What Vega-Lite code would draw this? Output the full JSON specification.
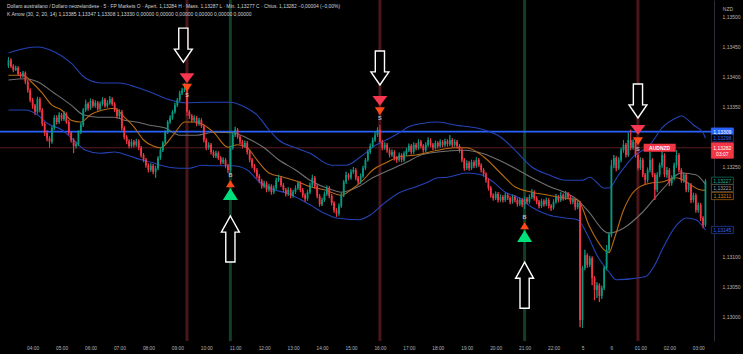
{
"$schema":"https://vega.github.io/schema/vega-lite/v6.json",
"width":714,"height":341,
"autosize":{"type":"none"},
"padding":{"left":0,"top":0,"right":29,"bottom":13},
"background":"#000000",
"config":{"view":{"stroke":null},"legend":{"disable":true},"font":"Liberation Sans","axis":{"grid":false,"ticks":false,"domain":false,"labelColor":"#b2b5be","labelFont":"Liberation Sans","titleColor":"#b2b5be","titleFont":"Liberation Sans","labelOverlap":false,"labelFlush":false,"labelBound":false},"axisX":{"labelOverlap":false,"labelFontSize":4.8,"tickCount":30},"axisY":{"labelOverlap":false,"labelFontSize":5,"tickCount":30}},
"title":{"text":"Dollaro australiano / Dollaro neozelandese · 5 · FP Markets   O · Apert. 1,13284   H · Mass. 1,13287   L · Min. 1,13277   C · Chius. 1,13282  −0,00004 (−0,00%)","subtitle":"K Arrow (30, 2, 20, 14)   1,13385  1,13347  1,13308  1,13330  0,00000  0,00000  0,00000  0,00000  0,00000  0,00000","anchor":"start","frame":"group","orient":"top","offset":-18,"dx":7,"font":"Liberation Sans","fontSize":4.9,"fontWeight":"normal","color":"#d1d4dc","subtitleFont":"Liberation Sans","subtitleFontSize":5,"subtitleColor":"#d1d4dc","subtitlePadding":3},
"datasets":{
"candles":[
{"i":-10,"o":1.13418,"h":1.13433,"l":1.13415,"c":1.13428},
{"i":-9,"o":1.13428,"h":1.13431,"l":1.13415,"c":1.13418},
{"i":-8,"o":1.13418,"h":1.13421,"l":1.13408,"c":1.13412},
{"i":-7,"o":1.13412,"h":1.13419,"l":1.1341,"c":1.13415},
{"i":-6,"o":1.13415,"h":1.13418,"l":1.13402,"c":1.13405},
{"i":-5,"o":1.13405,"h":1.13408,"l":1.13398,"c":1.13402},
{"i":-4,"o":1.13402,"h":1.1341,"l":1.13399,"c":1.13407},
{"i":-3,"o":1.13407,"h":1.13409,"l":1.13388,"c":1.13392},
{"i":-2,"o":1.13392,"h":1.13395,"l":1.13374,"c":1.13378},
{"i":-1,"o":1.13378,"h":1.13381,"l":1.13358,"c":1.13362},
{"i":0,"o":1.13362,"h":1.13365,"l":1.13347,"c":1.13352},
{"i":1,"o":1.13352,"h":1.13355,"l":1.13337,"c":1.13342},
{"i":2,"o":1.13342,"h":1.13367,"l":1.13339,"c":1.13363},
{"i":3,"o":1.13363,"h":1.13366,"l":1.13341,"c":1.13345},
{"i":4,"o":1.13345,"h":1.13348,"l":1.13318,"c":1.13322},
{"i":5,"o":1.13322,"h":1.13325,"l":1.13302,"c":1.13307},
{"i":6,"o":1.13307,"h":1.13311,"l":1.13293,"c":1.13298},
{"i":7,"o":1.13298,"h":1.13301,"l":1.13282,"c":1.13292},
{"i":8,"o":1.13292,"h":1.13318,"l":1.13289,"c":1.13315},
{"i":9,"o":1.13315,"h":1.13336,"l":1.13312,"c":1.13332},
{"i":10,"o":1.13332,"h":1.13336,"l":1.13321,"c":1.13325},
{"i":11,"o":1.13325,"h":1.13341,"l":1.13322,"c":1.13337},
{"i":12,"o":1.13337,"h":1.1334,"l":1.13327,"c":1.1333},
{"i":13,"o":1.1333,"h":1.13343,"l":1.13327,"c":1.13338},
{"i":14,"o":1.13338,"h":1.13341,"l":1.13322,"c":1.13325},
{"i":15,"o":1.13325,"h":1.13328,"l":1.13303,"c":1.13307},
{"i":16,"o":1.13307,"h":1.1331,"l":1.13291,"c":1.13295},
{"i":17,"o":1.13295,"h":1.13298,"l":1.13273,"c":1.13285},
{"i":18,"o":1.13285,"h":1.13292,"l":1.13281,"c":1.13288},
{"i":19,"o":1.13288,"h":1.13311,"l":1.13285,"c":1.13308},
{"i":20,"o":1.13308,"h":1.13324,"l":1.13305,"c":1.1332},
{"i":21,"o":1.1332,"h":1.13348,"l":1.13317,"c":1.13345},
{"i":22,"o":1.13345,"h":1.13362,"l":1.13342,"c":1.13355},
{"i":23,"o":1.13355,"h":1.13358,"l":1.13344,"c":1.13348},
{"i":24,"o":1.13348,"h":1.13364,"l":1.13345,"c":1.1336},
{"i":25,"o":1.1336,"h":1.13363,"l":1.13349,"c":1.13352},
{"i":26,"o":1.13352,"h":1.13361,"l":1.13349,"c":1.13357},
{"i":27,"o":1.13357,"h":1.1336,"l":1.13343,"c":1.13347},
{"i":28,"o":1.13347,"h":1.13359,"l":1.13344,"c":1.13355},
{"i":29,"o":1.13355,"h":1.13366,"l":1.13352,"c":1.13362},
{"i":30,"o":1.13362,"h":1.13365,"l":1.13349,"c":1.13352},
{"i":31,"o":1.13352,"h":1.13361,"l":1.13349,"c":1.13357},
{"i":32,"o":1.13357,"h":1.13368,"l":1.13354,"c":1.13363},
{"i":33,"o":1.13363,"h":1.13366,"l":1.13352,"c":1.13355},
{"i":34,"o":1.13355,"h":1.13358,"l":1.13342,"c":1.13345},
{"i":35,"o":1.13345,"h":1.13348,"l":1.13331,"c":1.13335},
{"i":36,"o":1.13335,"h":1.13346,"l":1.13332,"c":1.13342},
{"i":37,"o":1.13342,"h":1.13345,"l":1.13311,"c":1.13315},
{"i":38,"o":1.13315,"h":1.13318,"l":1.13296,"c":1.133},
{"i":39,"o":1.133,"h":1.13303,"l":1.13288,"c":1.13293},
{"i":40,"o":1.13293,"h":1.13296,"l":1.13281,"c":1.13285},
{"i":41,"o":1.13285,"h":1.13296,"l":1.13282,"c":1.13292},
{"i":42,"o":1.13292,"h":1.13295,"l":1.13283,"c":1.13287},
{"i":43,"o":1.13287,"h":1.13297,"l":1.13284,"c":1.13293},
{"i":44,"o":1.13293,"h":1.13296,"l":1.13278,"c":1.13282},
{"i":45,"o":1.13282,"h":1.13285,"l":1.13266,"c":1.1327},
{"i":46,"o":1.1327,"h":1.13273,"l":1.13258,"c":1.13262},
{"i":47,"o":1.13262,"h":1.13265,"l":1.13249,"c":1.13253},
{"i":48,"o":1.13253,"h":1.13256,"l":1.13241,"c":1.13245},
{"i":49,"o":1.13245,"h":1.13256,"l":1.13242,"c":1.13252},
{"i":50,"o":1.13252,"h":1.13255,"l":1.13238,"c":1.13242},
{"i":51,"o":1.13242,"h":1.13252,"l":1.13232,"c":1.13248},
{"i":52,"o":1.13248,"h":1.13268,"l":1.13245,"c":1.13265},
{"i":53,"o":1.13265,"h":1.13282,"l":1.13262,"c":1.13278},
{"i":54,"o":1.13278,"h":1.13293,"l":1.13275,"c":1.1329},
{"i":55,"o":1.1329,"h":1.13311,"l":1.13287,"c":1.13308},
{"i":56,"o":1.13308,"h":1.13328,"l":1.13305,"c":1.13325},
{"i":57,"o":1.13325,"h":1.13336,"l":1.13322,"c":1.13332},
{"i":58,"o":1.13332,"h":1.13345,"l":1.13329,"c":1.13342},
{"i":59,"o":1.13342,"h":1.13357,"l":1.13339,"c":1.13353},
{"i":60,"o":1.13353,"h":1.13365,"l":1.1335,"c":1.13362},
{"i":61,"o":1.13362,"h":1.13377,"l":1.13359,"c":1.13373},
{"i":62,"o":1.13373,"h":1.13382,"l":1.1337,"c":1.13378},
{"i":63,"o":1.13378,"h":1.1339,"l":1.13375,"c":1.1338},
{"i":64,"o":1.1338,"h":1.13382,"l":1.13335,"c":1.13342},
{"i":65,"o":1.13342,"h":1.13345,"l":1.1333,"c":1.13335},
{"i":66,"o":1.13335,"h":1.13338,"l":1.13324,"c":1.13328},
{"i":67,"o":1.13328,"h":1.13336,"l":1.13325,"c":1.13332},
{"i":68,"o":1.13332,"h":1.13335,"l":1.13318,"c":1.13322},
{"i":69,"o":1.13322,"h":1.13332,"l":1.13319,"c":1.13328},
{"i":70,"o":1.13328,"h":1.13331,"l":1.13315,"c":1.13318},
{"i":71,"o":1.13318,"h":1.13321,"l":1.13291,"c":1.13295},
{"i":72,"o":1.13295,"h":1.13298,"l":1.13278,"c":1.13282},
{"i":73,"o":1.13282,"h":1.13291,"l":1.13279,"c":1.13287},
{"i":74,"o":1.13287,"h":1.1329,"l":1.13271,"c":1.13275},
{"i":75,"o":1.13275,"h":1.13278,"l":1.13265,"c":1.13268},
{"i":76,"o":1.13268,"h":1.13277,"l":1.13265,"c":1.13273},
{"i":77,"o":1.13273,"h":1.13276,"l":1.13262,"c":1.13265},
{"i":78,"o":1.13265,"h":1.13268,"l":1.13254,"c":1.13258},
{"i":79,"o":1.13258,"h":1.13266,"l":1.13255,"c":1.13262},
{"i":80,"o":1.13262,"h":1.13265,"l":1.13248,"c":1.13252},
{"i":81,"o":1.13252,"h":1.13255,"l":1.1324,"c":1.13245},
{"i":82,"o":1.13245,"h":1.13285,"l":1.13238,"c":1.13282},
{"i":83,"o":1.13282,"h":1.13307,"l":1.13279,"c":1.13303},
{"i":84,"o":1.13303,"h":1.13317,"l":1.133,"c":1.13312},
{"i":85,"o":1.13312,"h":1.13315,"l":1.13297,"c":1.133},
{"i":86,"o":1.133,"h":1.13303,"l":1.13288,"c":1.13292},
{"i":87,"o":1.13292,"h":1.13295,"l":1.13281,"c":1.13285},
{"i":88,"o":1.13285,"h":1.13294,"l":1.13282,"c":1.1329},
{"i":89,"o":1.1329,"h":1.13293,"l":1.13271,"c":1.13275},
{"i":90,"o":1.13275,"h":1.13278,"l":1.13258,"c":1.13262},
{"i":91,"o":1.13262,"h":1.13265,"l":1.13248,"c":1.13252},
{"i":92,"o":1.13252,"h":1.13255,"l":1.13241,"c":1.13245},
{"i":93,"o":1.13245,"h":1.13248,"l":1.13231,"c":1.13235},
{"i":94,"o":1.13235,"h":1.13238,"l":1.13223,"c":1.13227},
{"i":95,"o":1.13227,"h":1.1323,"l":1.13214,"c":1.13218},
{"i":96,"o":1.13218,"h":1.13227,"l":1.13215,"c":1.13223},
{"i":97,"o":1.13223,"h":1.13226,"l":1.13208,"c":1.13212},
{"i":98,"o":1.13212,"h":1.13222,"l":1.13209,"c":1.13218},
{"i":99,"o":1.13218,"h":1.13221,"l":1.13204,"c":1.13208},
{"i":100,"o":1.13208,"h":1.13219,"l":1.13205,"c":1.13215},
{"i":101,"o":1.13215,"h":1.13232,"l":1.13212,"c":1.13228},
{"i":102,"o":1.13228,"h":1.13237,"l":1.13225,"c":1.13232},
{"i":103,"o":1.13232,"h":1.13235,"l":1.13217,"c":1.1322},
{"i":104,"o":1.1322,"h":1.13223,"l":1.13208,"c":1.13212},
{"i":105,"o":1.13212,"h":1.13215,"l":1.13201,"c":1.13205},
{"i":106,"o":1.13205,"h":1.13216,"l":1.13202,"c":1.13212},
{"i":107,"o":1.13212,"h":1.13215,"l":1.13198,"c":1.13202},
{"i":108,"o":1.13202,"h":1.13212,"l":1.13199,"c":1.13208},
{"i":109,"o":1.13208,"h":1.13219,"l":1.13205,"c":1.13215},
{"i":110,"o":1.13215,"h":1.13227,"l":1.13212,"c":1.13223},
{"i":111,"o":1.13223,"h":1.13226,"l":1.13208,"c":1.13212},
{"i":112,"o":1.13212,"h":1.13215,"l":1.13199,"c":1.13203},
{"i":113,"o":1.13203,"h":1.13206,"l":1.13192,"c":1.13197},
{"i":114,"o":1.13197,"h":1.13212,"l":1.13194,"c":1.13208},
{"i":115,"o":1.13208,"h":1.13224,"l":1.13205,"c":1.1322},
{"i":116,"o":1.1322,"h":1.13237,"l":1.13217,"c":1.13232},
{"i":117,"o":1.13232,"h":1.13235,"l":1.13214,"c":1.13218},
{"i":118,"o":1.13218,"h":1.13221,"l":1.13198,"c":1.13202},
{"i":119,"o":1.13202,"h":1.13205,"l":1.13184,"c":1.13188},
{"i":120,"o":1.13188,"h":1.13199,"l":1.13185,"c":1.13195},
{"i":121,"o":1.13195,"h":1.13209,"l":1.13192,"c":1.13205},
{"i":122,"o":1.13205,"h":1.13219,"l":1.13202,"c":1.13215},
{"i":123,"o":1.13215,"h":1.13218,"l":1.13198,"c":1.13202},
{"i":124,"o":1.13202,"h":1.13205,"l":1.13186,"c":1.1319},
{"i":125,"o":1.1319,"h":1.13193,"l":1.13174,"c":1.13178},
{"i":126,"o":1.13178,"h":1.13181,"l":1.13167,"c":1.13172},
{"i":127,"o":1.13172,"h":1.13189,"l":1.13169,"c":1.13185},
{"i":128,"o":1.13185,"h":1.13207,"l":1.13182,"c":1.13203},
{"i":129,"o":1.13203,"h":1.13228,"l":1.132,"c":1.13225},
{"i":130,"o":1.13225,"h":1.13242,"l":1.13222,"c":1.13237},
{"i":131,"o":1.13237,"h":1.1324,"l":1.13228,"c":1.13232},
{"i":132,"o":1.13232,"h":1.13246,"l":1.13229,"c":1.13242},
{"i":133,"o":1.13242,"h":1.1325,"l":1.13239,"c":1.13245},
{"i":134,"o":1.13245,"h":1.13248,"l":1.13228,"c":1.13232},
{"i":135,"o":1.13232,"h":1.13235,"l":1.13221,"c":1.13225},
{"i":136,"o":1.13225,"h":1.13239,"l":1.13222,"c":1.13235},
{"i":137,"o":1.13235,"h":1.13252,"l":1.13232,"c":1.13248},
{"i":138,"o":1.13248,"h":1.13265,"l":1.13245,"c":1.13262},
{"i":139,"o":1.13262,"h":1.13279,"l":1.13259,"c":1.13275},
{"i":140,"o":1.13275,"h":1.13289,"l":1.13272,"c":1.13285},
{"i":141,"o":1.13285,"h":1.13299,"l":1.13282,"c":1.13295},
{"i":142,"o":1.13295,"h":1.13308,"l":1.13292,"c":1.13303},
{"i":143,"o":1.13303,"h":1.13316,"l":1.133,"c":1.13312},
{"i":144,"o":1.13312,"h":1.1332,"l":1.13289,"c":1.13292},
{"i":145,"o":1.13292,"h":1.13295,"l":1.13278,"c":1.13282},
{"i":146,"o":1.13282,"h":1.13291,"l":1.13279,"c":1.13287},
{"i":147,"o":1.13287,"h":1.1329,"l":1.13274,"c":1.13278},
{"i":148,"o":1.13278,"h":1.13281,"l":1.13266,"c":1.1327},
{"i":149,"o":1.1327,"h":1.13279,"l":1.13267,"c":1.13275},
{"i":150,"o":1.13275,"h":1.13278,"l":1.13261,"c":1.13265},
{"i":151,"o":1.13265,"h":1.13268,"l":1.13257,"c":1.13262},
{"i":152,"o":1.13262,"h":1.13274,"l":1.13259,"c":1.1327},
{"i":153,"o":1.1327,"h":1.13273,"l":1.13258,"c":1.13262},
{"i":154,"o":1.13262,"h":1.13276,"l":1.13259,"c":1.13272},
{"i":155,"o":1.13272,"h":1.13282,"l":1.13269,"c":1.13278},
{"i":156,"o":1.13278,"h":1.13289,"l":1.13275,"c":1.13285},
{"i":157,"o":1.13285,"h":1.13288,"l":1.13271,"c":1.13275},
{"i":158,"o":1.13275,"h":1.13291,"l":1.13272,"c":1.13287},
{"i":159,"o":1.13287,"h":1.1329,"l":1.13278,"c":1.13282},
{"i":160,"o":1.13282,"h":1.13296,"l":1.13279,"c":1.13292},
{"i":161,"o":1.13292,"h":1.13295,"l":1.13281,"c":1.13285},
{"i":162,"o":1.13285,"h":1.13288,"l":1.13274,"c":1.13278},
{"i":163,"o":1.13278,"h":1.13291,"l":1.13275,"c":1.13287},
{"i":164,"o":1.13287,"h":1.13299,"l":1.13284,"c":1.13295},
{"i":165,"o":1.13295,"h":1.13298,"l":1.13283,"c":1.13287},
{"i":166,"o":1.13287,"h":1.1329,"l":1.13278,"c":1.13282},
{"i":167,"o":1.13282,"h":1.13294,"l":1.13279,"c":1.1329},
{"i":168,"o":1.1329,"h":1.13293,"l":1.13281,"c":1.13285},
{"i":169,"o":1.13285,"h":1.13296,"l":1.13282,"c":1.13292},
{"i":170,"o":1.13292,"h":1.13295,"l":1.13283,"c":1.13287},
{"i":171,"o":1.13287,"h":1.13297,"l":1.13284,"c":1.13293},
{"i":172,"o":1.13293,"h":1.13296,"l":1.13284,"c":1.13288},
{"i":173,"o":1.13288,"h":1.13303,"l":1.13285,"c":1.13295},
{"i":174,"o":1.13295,"h":1.13298,"l":1.13283,"c":1.13287},
{"i":175,"o":1.13287,"h":1.13296,"l":1.13284,"c":1.13292},
{"i":176,"o":1.13292,"h":1.13295,"l":1.13281,"c":1.13285},
{"i":177,"o":1.13285,"h":1.13288,"l":1.13274,"c":1.13278},
{"i":178,"o":1.13278,"h":1.13281,"l":1.13258,"c":1.13262},
{"i":179,"o":1.13262,"h":1.13265,"l":1.13244,"c":1.13248},
{"i":180,"o":1.13248,"h":1.13261,"l":1.13245,"c":1.13257},
{"i":181,"o":1.13257,"h":1.1326,"l":1.13244,"c":1.13248},
{"i":182,"o":1.13248,"h":1.13262,"l":1.13245,"c":1.13258},
{"i":183,"o":1.13258,"h":1.13261,"l":1.13248,"c":1.13252},
{"i":184,"o":1.13252,"h":1.13266,"l":1.13249,"c":1.13262},
{"i":185,"o":1.13262,"h":1.13265,"l":1.1325,"c":1.13253},
{"i":186,"o":1.13253,"h":1.13256,"l":1.13241,"c":1.13245},
{"i":187,"o":1.13245,"h":1.13248,"l":1.13234,"c":1.13238},
{"i":188,"o":1.13238,"h":1.13241,"l":1.13224,"c":1.13228},
{"i":189,"o":1.13228,"h":1.13231,"l":1.13211,"c":1.13215},
{"i":190,"o":1.13215,"h":1.13218,"l":1.13199,"c":1.13203},
{"i":191,"o":1.13203,"h":1.13206,"l":1.13194,"c":1.13198},
{"i":192,"o":1.13198,"h":1.13209,"l":1.13195,"c":1.13205},
{"i":193,"o":1.13205,"h":1.13208,"l":1.13191,"c":1.13195},
{"i":194,"o":1.13195,"h":1.13204,"l":1.13192,"c":1.132},
{"i":195,"o":1.132,"h":1.13203,"l":1.13191,"c":1.13195},
{"i":196,"o":1.13195,"h":1.13207,"l":1.13192,"c":1.13203},
{"i":197,"o":1.13203,"h":1.13206,"l":1.13195,"c":1.13198},
{"i":198,"o":1.13198,"h":1.13201,"l":1.13188,"c":1.13192},
{"i":199,"o":1.13192,"h":1.13204,"l":1.13189,"c":1.132},
{"i":200,"o":1.132,"h":1.13203,"l":1.13191,"c":1.13195},
{"i":201,"o":1.13195,"h":1.13198,"l":1.13184,"c":1.13188},
{"i":202,"o":1.13188,"h":1.13199,"l":1.13185,"c":1.13195},
{"i":203,"o":1.13195,"h":1.13198,"l":1.13183,"c":1.13187},
{"i":204,"o":1.13187,"h":1.13201,"l":1.1318,"c":1.13197},
{"i":205,"o":1.13197,"h":1.132,"l":1.13188,"c":1.13192},
{"i":206,"o":1.13192,"h":1.13204,"l":1.13189,"c":1.132},
{"i":207,"o":1.132,"h":1.13213,"l":1.13197,"c":1.13208},
{"i":208,"o":1.13208,"h":1.13211,"l":1.13194,"c":1.13198},
{"i":209,"o":1.13198,"h":1.13201,"l":1.13188,"c":1.13192},
{"i":210,"o":1.13192,"h":1.13195,"l":1.13181,"c":1.13185},
{"i":211,"o":1.13185,"h":1.13197,"l":1.13182,"c":1.13193},
{"i":212,"o":1.13193,"h":1.13196,"l":1.13184,"c":1.13188},
{"i":213,"o":1.13188,"h":1.13199,"l":1.13185,"c":1.13195},
{"i":214,"o":1.13195,"h":1.13198,"l":1.13181,"c":1.13185},
{"i":215,"o":1.13185,"h":1.13188,"l":1.13177,"c":1.13182},
{"i":216,"o":1.13182,"h":1.13196,"l":1.13179,"c":1.13192},
{"i":217,"o":1.13192,"h":1.13205,"l":1.13189,"c":1.132},
{"i":218,"o":1.132,"h":1.13203,"l":1.13191,"c":1.13195},
{"i":219,"o":1.13195,"h":1.13208,"l":1.13192,"c":1.13203},
{"i":220,"o":1.13203,"h":1.13206,"l":1.13194,"c":1.13198},
{"i":221,"o":1.13198,"h":1.1321,"l":1.13195,"c":1.13205},
{"i":222,"o":1.13205,"h":1.13208,"l":1.13196,"c":1.132},
{"i":223,"o":1.132,"h":1.13203,"l":1.13188,"c":1.13192},
{"i":224,"o":1.13192,"h":1.13199,"l":1.13188,"c":1.13195},
{"i":225,"o":1.13195,"h":1.13198,"l":1.13178,"c":1.13183},
{"i":226,"o":1.13183,"h":1.13194,"l":1.1318,"c":1.1319},
{"i":227,"o":1.1319,"h":1.13193,"l":1.12983,"c":1.12995},
{"i":228,"o":1.12995,"h":1.13085,"l":1.12982,"c":1.13082},
{"i":229,"o":1.13082,"h":1.13112,"l":1.13078,"c":1.13103},
{"i":230,"o":1.13103,"h":1.13106,"l":1.13082,"c":1.13087},
{"i":231,"o":1.13087,"h":1.13102,"l":1.13083,"c":1.13098},
{"i":232,"o":1.13098,"h":1.13101,"l":1.13053,"c":1.13065},
{"i":233,"o":1.13065,"h":1.13068,"l":1.13028,"c":1.13045},
{"i":234,"o":1.13045,"h":1.13058,"l":1.13032,"c":1.13053},
{"i":235,"o":1.13053,"h":1.13056,"l":1.13025,"c":1.13035},
{"i":236,"o":1.13035,"h":1.13052,"l":1.1303,"c":1.13048},
{"i":237,"o":1.13048,"h":1.13085,"l":1.13045,"c":1.13082},
{"i":238,"o":1.13082,"h":1.1312,"l":1.13078,"c":1.13112},
{"i":239,"o":1.13112,"h":1.13141,"l":1.13108,"c":1.13137},
{"i":240,"o":1.13137,"h":1.13262,"l":1.13133,"c":1.13253},
{"i":241,"o":1.13253,"h":1.1327,"l":1.13248,"c":1.13265},
{"i":242,"o":1.13265,"h":1.13268,"l":1.13243,"c":1.13248},
{"i":243,"o":1.13248,"h":1.13266,"l":1.13245,"c":1.13262},
{"i":244,"o":1.13262,"h":1.13282,"l":1.13258,"c":1.13278},
{"i":245,"o":1.13278,"h":1.13295,"l":1.13274,"c":1.13287},
{"i":246,"o":1.13287,"h":1.1329,"l":1.13266,"c":1.1327},
{"i":247,"o":1.1327,"h":1.13307,"l":1.13267,"c":1.13295},
{"i":248,"o":1.13295,"h":1.13312,"l":1.13278,"c":1.13282},
{"i":249,"o":1.13282,"h":1.13296,"l":1.13279,"c":1.13292},
{"i":250,"o":1.13292,"h":1.13298,"l":1.13266,"c":1.1327},
{"i":251,"o":1.1327,"h":1.13274,"l":1.13244,"c":1.13248},
{"i":252,"o":1.13248,"h":1.13266,"l":1.13245,"c":1.13262},
{"i":253,"o":1.13262,"h":1.13265,"l":1.13233,"c":1.13237},
{"i":254,"o":1.13237,"h":1.1324,"l":1.1322,"c":1.13228},
{"i":255,"o":1.13228,"h":1.13249,"l":1.13224,"c":1.13245},
{"i":256,"o":1.13245,"h":1.13275,"l":1.13241,"c":1.13262},
{"i":257,"o":1.13262,"h":1.13265,"l":1.13233,"c":1.13237},
{"i":258,"o":1.13237,"h":1.1324,"l":1.13195,"c":1.13212},
{"i":259,"o":1.13212,"h":1.13241,"l":1.13208,"c":1.13237},
{"i":260,"o":1.13237,"h":1.13257,"l":1.13233,"c":1.13253},
{"i":261,"o":1.13253,"h":1.13282,"l":1.13249,"c":1.1327},
{"i":262,"o":1.1327,"h":1.13273,"l":1.13233,"c":1.13237},
{"i":263,"o":1.13237,"h":1.1325,"l":1.13232,"c":1.13245},
{"i":264,"o":1.13245,"h":1.13248,"l":1.13218,"c":1.13223},
{"i":265,"o":1.13223,"h":1.13236,"l":1.13219,"c":1.13232},
{"i":266,"o":1.13232,"h":1.13257,"l":1.13228,"c":1.13253},
{"i":267,"o":1.13253,"h":1.13278,"l":1.13249,"c":1.1327},
{"i":268,"o":1.1327,"h":1.13273,"l":1.13241,"c":1.13245},
{"i":269,"o":1.13245,"h":1.13248,"l":1.13224,"c":1.13228},
{"i":270,"o":1.13228,"h":1.13241,"l":1.13224,"c":1.13237},
{"i":271,"o":1.13237,"h":1.1324,"l":1.13208,"c":1.13212},
{"i":272,"o":1.13212,"h":1.13224,"l":1.13208,"c":1.1322},
{"i":273,"o":1.1322,"h":1.13223,"l":1.1319,"c":1.13195},
{"i":274,"o":1.13195,"h":1.13207,"l":1.13191,"c":1.13203},
{"i":275,"o":1.13203,"h":1.13206,"l":1.13174,"c":1.13178},
{"i":276,"o":1.13178,"h":1.13191,"l":1.13174,"c":1.13187},
{"i":277,"o":1.13187,"h":1.1319,"l":1.1316,"c":1.13165},
{"i":278,"o":1.13165,"h":1.13168,"l":1.13148,"c":1.13153},
{"i":279,"o":1.13153,"h":1.1323,"l":1.1315,"c":1.13227}
],
"lines":[
{"s":"u","i":-10,"v":1.1344},{"s":"u","i":-3,"v":1.13448},{"s":"u","i":2,"v":1.1345},{"s":"u","i":9,"v":1.13442},{"s":"u","i":16,"v":1.13423},{"s":"u","i":22,"v":1.13398},{"s":"u","i":29,"v":1.1339},{"s":"u","i":36,"v":1.1339},{"s":"u","i":43,"v":1.13383},{"s":"u","i":50,"v":1.13373},{"s":"u","i":56,"v":1.13363},{"s":"u","i":64,"v":1.13357},{"s":"u","i":71,"v":1.13358},{"s":"u","i":82,"v":1.13358},{"s":"u","i":88,"v":1.1335},{"s":"u","i":93,"v":1.13337},{"s":"u","i":98,"v":1.13312},{"s":"u","i":102,"v":1.13295},{"s":"u","i":109,"v":1.13282},{"s":"u","i":115,"v":1.13273},{"s":"u","i":124,"v":1.13253},{"s":"u","i":130,"v":1.13253},{"s":"u","i":136,"v":1.13267},{"s":"u","i":141,"v":1.13283},{"s":"u","i":148,"v":1.13298},{"s":"u","i":152,"v":1.13307},{"s":"u","i":156,"v":1.13317},{"s":"u","i":162,"v":1.13323},{"s":"u","i":168,"v":1.13325},{"s":"u","i":175,"v":1.1332},{"s":"u","i":187,"v":1.13312},{"s":"u","i":194,"v":1.133},{"s":"u","i":200,"v":1.13278},{"s":"u","i":207,"v":1.1325},{"s":"u","i":214,"v":1.13237},{"s":"u","i":221,"v":1.13228},{"s":"u","i":228,"v":1.13228},{"s":"u","i":231,"v":1.13233},{"s":"u","i":237,"v":1.13215},{"s":"u","i":239,"v":1.13215},{"s":"u","i":243,"v":1.13237},{"s":"u","i":249,"v":1.13267},{"s":"u","i":256,"v":1.13287},{"s":"u","i":261,"v":1.13315},{"s":"u","i":267,"v":1.13332},{"s":"u","i":269,"v":1.13335},{"s":"u","i":274,"v":1.1332},{"s":"u","i":278,"v":1.13307},{"s":"u","i":279,"v":1.13298},
{"s":"l","i":-10,"v":1.13345},{"s":"l","i":-3,"v":1.13345},{"s":"l","i":2,"v":1.13337},{"s":"l","i":6,"v":1.13323},{"s":"l","i":12,"v":1.13312},{"s":"l","i":17,"v":1.13295},{"s":"l","i":22,"v":1.13278},{"s":"l","i":28,"v":1.13273},{"s":"l","i":34,"v":1.13275},{"s":"l","i":39,"v":1.1327},{"s":"l","i":45,"v":1.13262},{"s":"l","i":50,"v":1.13257},{"s":"l","i":53,"v":1.13253},{"s":"l","i":61,"v":1.13248},{"s":"l","i":65,"v":1.13248},{"s":"l","i":70,"v":1.13253},{"s":"l","i":75,"v":1.13252},{"s":"l","i":83,"v":1.13252},{"s":"l","i":89,"v":1.13245},{"s":"l","i":94,"v":1.13225},{"s":"l","i":100,"v":1.13212},{"s":"l","i":105,"v":1.13207},{"s":"l","i":109,"v":1.132},{"s":"l","i":115,"v":1.13187},{"s":"l","i":121,"v":1.13173},{"s":"l","i":126,"v":1.13165},{"s":"l","i":135,"v":1.13162},{"s":"l","i":140,"v":1.1317},{"s":"l","i":145,"v":1.13187},{"s":"l","i":152,"v":1.13207},{"s":"l","i":159,"v":1.13217},{"s":"l","i":164,"v":1.13225},{"s":"l","i":168,"v":1.13232},{"s":"l","i":172,"v":1.13233},{"s":"l","i":180,"v":1.1324},{"s":"l","i":186,"v":1.13237},{"s":"l","i":191,"v":1.13225},{"s":"l","i":196,"v":1.13208},{"s":"l","i":202,"v":1.13198},{"s":"l","i":207,"v":1.13183},{"s":"l","i":214,"v":1.1317},{"s":"l","i":221,"v":1.13165},{"s":"l","i":226,"v":1.13162},{"s":"l","i":230,"v":1.13137},{"s":"l","i":234,"v":1.13103},{"s":"l","i":239,"v":1.13075},{"s":"l","i":242,"v":1.13062},{"s":"l","i":254,"v":1.13067},{"s":"l","i":258,"v":1.13087},{"s":"l","i":261,"v":1.13112},{"s":"l","i":267,"v":1.13153},{"s":"l","i":271,"v":1.13165},{"s":"l","i":275,"v":1.13162},{"s":"l","i":279,"v":1.13145},
{"s":"m","i":-10,"v":1.13395},{"s":"m","i":-3,"v":1.13397},{"s":"m","i":2,"v":1.13392},{"s":"m","i":9,"v":1.13373},{"s":"m","i":16,"v":1.13353},{"s":"m","i":21,"v":1.13337},{"s":"m","i":27,"v":1.13333},{"s":"m","i":34,"v":1.13333},{"s":"m","i":38,"v":1.13328},{"s":"m","i":43,"v":1.13325},{"s":"m","i":48,"v":1.1332},{"s":"m","i":55,"v":1.13315},{"s":"m","i":61,"v":1.13303},{"s":"m","i":68,"v":1.13303},{"s":"m","i":75,"v":1.13308},{"s":"m","i":83,"v":1.13307},{"s":"m","i":89,"v":1.13298},{"s":"m","i":96,"v":1.13282},{"s":"m","i":102,"v":1.13262},{"s":"m","i":109,"v":1.13245},{"s":"m","i":115,"v":1.13228},{"s":"m","i":124,"v":1.13212},{"s":"m","i":128,"v":1.13208},{"s":"m","i":135,"v":1.13217},{"s":"m","i":141,"v":1.13232},{"s":"m","i":148,"v":1.13245},{"s":"m","i":155,"v":1.13258},{"s":"m","i":161,"v":1.1327},{"s":"m","i":168,"v":1.13275},{"s":"m","i":179,"v":1.13278},{"s":"m","i":187,"v":1.13272},{"s":"m","i":193,"v":1.13262},{"s":"m","i":200,"v":1.13248},{"s":"m","i":207,"v":1.13232},{"s":"m","i":214,"v":1.13218},{"s":"m","i":223,"v":1.13203},{"s":"m","i":226,"v":1.13195},{"s":"m","i":230,"v":1.13178},{"s":"m","i":239,"v":1.1314},{"s":"m","i":245,"v":1.13148},{"s":"m","i":253,"v":1.13175},{"s":"m","i":261,"v":1.13212},{"s":"m","i":269,"v":1.1324},{"s":"m","i":275,"v":1.13237},{"s":"m","i":279,"v":1.13221},
{"s":"e","i":-10,"v":1.13403},{"s":"e","i":-4,"v":1.13403},{"s":"e","i":0,"v":1.1339},{"s":"e","i":4,"v":1.13373},{"s":"e","i":8,"v":1.13353},{"s":"e","i":12,"v":1.13345},{"s":"e","i":16,"v":1.13328},{"s":"e","i":20,"v":1.13325},{"s":"e","i":24,"v":1.13337},{"s":"e","i":29,"v":1.13345},{"s":"e","i":34,"v":1.13348},{"s":"e","i":38,"v":1.13333},{"s":"e","i":42,"v":1.13317},{"s":"e","i":46,"v":1.13295},{"s":"e","i":50,"v":1.13285},{"s":"e","i":53,"v":1.13282},{"s":"e","i":59,"v":1.13307},{"s":"e","i":63,"v":1.13325},{"s":"e","i":67,"v":1.13325},{"s":"e","i":71,"v":1.1332},{"s":"e","i":75,"v":1.13308},{"s":"e","i":81,"v":1.13283},{"s":"e","i":85,"v":1.13287},{"s":"e","i":89,"v":1.13282},{"s":"e","i":93,"v":1.13262},{"s":"e","i":98,"v":1.1324},{"s":"e","i":104,"v":1.13233},{"s":"e","i":109,"v":1.13227},{"s":"e","i":115,"v":1.13217},{"s":"e","i":121,"v":1.13212},{"s":"e","i":128,"v":1.13203},{"s":"e","i":132,"v":1.13212},{"s":"e","i":137,"v":1.13228},{"s":"e","i":141,"v":1.13245},{"s":"e","i":147,"v":1.13258},{"s":"e","i":152,"v":1.13267},{"s":"e","i":159,"v":1.1327},{"s":"e","i":168,"v":1.13278},{"s":"e","i":175,"v":1.13282},{"s":"e","i":180,"v":1.13282},{"s":"e","i":187,"v":1.13267},{"s":"e","i":194,"v":1.1324},{"s":"e","i":200,"v":1.13217},{"s":"e","i":207,"v":1.13208},{"s":"e","i":214,"v":1.13203},{"s":"e","i":221,"v":1.13198},{"s":"e","i":226,"v":1.13195},{"s":"e","i":231,"v":1.1315},{"s":"e","i":237,"v":1.13112},{"s":"e","i":239,"v":1.13107},{"s":"e","i":241,"v":1.13128},{"s":"e","i":245,"v":1.13178},{"s":"e","i":250,"v":1.13212},{"s":"e","i":256,"v":1.13223},{"s":"e","i":261,"v":1.13225},{"s":"e","i":267,"v":1.13232},{"s":"e","i":271,"v":1.13225},{"s":"e","i":276,"v":1.13213},{"s":"e","i":279,"v":1.13211}
],
"sig":[
{"i":64,"p":1.13398,"k":"bd"},{"i":64,"p":1.13382,"k":"sd"},{"i":64,"p":1.1337,"k":"S"},
{"i":82,"p":1.13237,"k":"B"},{"i":82,"p":1.13222,"k":"su"},{"i":82,"p":1.13205,"k":"bu"},
{"i":144,"p":1.1336,"k":"bd"},{"i":144,"p":1.13343,"k":"sd"},{"i":144,"p":1.13332,"k":"S"},
{"i":204,"p":1.13167,"k":"B"},{"i":204,"p":1.13152,"k":"su"},{"i":204,"p":1.13135,"k":"bu"},
{"i":251,"p":1.13312,"k":"bd"},{"i":251,"p":1.13293,"k":"sd"},{"i":251,"p":1.1328,"k":"S"}
],
"arrows":[
{"i":62.5,"p":1.13453,"d":"dn"},{"i":82,"p":1.1313,"d":"up"},{"i":144,"p":1.13415,"d":"dn"},{"i":204,"p":1.13053,"d":"up"},{"i":251,"p":1.1336,"d":"dn"}
],
"hl":[{"p":1.13309,"k":"b"},{"p":1.13282,"k":"r"}],
"tags":[
{"p":1.13309,"t":"1,13309","k":"a"},{"p":1.13298,"t":"1,13298","k":"b"},{"p":1.13282,"t":"1,13282","k":"c"},{"p":1.13227,"t":"1,13227","k":"d"},{"p":1.13221,"t":"1,13221","k":"e"},{"p":1.13211,"t":"1,13211","k":"f"},{"p":1.13145,"t":"1,13145","k":"g"}
]
},
"resolve":{"scale":{"color":"independent","fill":"independent","stroke":"independent","shape":"independent"}},
"layer":[
{"data":{"name":"candles"},"mark":{"type":"rule","strokeWidth":0.9},
 "encoding":{"x":{"field":"i","type":"quantitative","scale":{"domain":[-11.45,280.46],"nice":false,"zero":false},
   "axis":{"orient":"bottom","values":[0,12,24,36,48,60,72,84,96,108,120,132,144,156,168,180,192,204,216,228,240,252,264,276],"tickCount":30,"labelExpr":"['04:00','05:00','06:00','07:00','08:00','09:00','10:00','11:00','12:00','13:00','14:00','15:00','16:00','17:00','18:00','19:00','20:00','21:00','22:00','5','6','01:00','02:00','03:00'][round(datum.value/12)]","title":null,"labelFontSize":4.8,"labelPadding":4,"labelOverlap":false,"labelFlush":false,"labelBound":false,"minExtent":13,"maxExtent":13}},
 "y":{"field":"l","type":"quantitative","scale":{"domain":[1.1296,1.135283],"nice":false,"zero":false},
   "axis":{"orient":"right","values":[1.13,1.1305,1.131,1.1325,1.1335,1.134,1.1345,1.135],"tickCount":30,"labelExpr":"replace(format(datum.value,'.5f'),'.',',')","title":"NZD","titleAngle":0,"titleX":13.5,"titleY":8.5,"titleAlign":"center","titleBaseline":"middle","titleFontSize":5,"titleFontWeight":"normal","domain":true,"domainColor":"#2a2e39","labelFontSize":5,"labelPadding":8,"labelAlign":"left","labelBaseline":"middle","labelOverlap":false,"labelFlush":false,"minExtent":29,"maxExtent":29}},
 "y2":{"field":"h"},
 "color":{"condition":{"test":"datum.c>=datum.o","value":"#089981"},"value":"#f23645"}}},
{"data":{"name":"sig"},"transform":[{"filter":"datum.k=='S'||datum.k=='B'"}],"mark":{"type":"rule","strokeWidth":3},
 "encoding":{"x":{"field":"i","type":"quantitative","scale":{"domain":[-11.45,280.46],"nice":false,"zero":false}},
 "color":{"field":"k","type":"nominal","scale":{"domain":["S","B"],"range":["#4a161a","#0f3f27"]}}}},
{"data":{"name":"hl"},"transform":[{"filter":"datum.k=='b'"}],"mark":{"type":"rule","color":"#2962ff","strokeWidth":1.6},
 "encoding":{"y":{"field":"p","type":"quantitative","scale":{"domain":[1.1296,1.135283],"nice":false,"zero":false}}}},
{"data":{"name":"hl"},"transform":[{"filter":"datum.k=='r'"}],"mark":{"type":"rule","color":"#5e1b22","strokeWidth":1},
 "encoding":{"y":{"field":"p","type":"quantitative","scale":{"domain":[1.1296,1.135283],"nice":false,"zero":false}}}},
{"data":{"name":"lines"},"mark":{"type":"line","strokeWidth":1.1,"interpolate":"monotone"},
 "encoding":{"x":{"field":"i","type":"quantitative","scale":{"domain":[-11.45,280.46],"nice":false,"zero":false}},
 "y":{"field":"v","type":"quantitative","scale":{"domain":[1.1296,1.135283],"nice":false,"zero":false}},
 "color":{"field":"s","type":"nominal","scale":{"domain":["u","l","m","e"],"range":["#2443b5","#2443b5","#707070","#b86a12"]}}}},
{"data":{"name":"candles"},"mark":{"type":"rule","strokeWidth":0.9},
 "encoding":{"x":{"field":"i","type":"quantitative","scale":{"domain":[-11.45,280.46],"nice":false,"zero":false}},
 "y":{"field":"l","type":"quantitative","scale":{"domain":[1.1296,1.135283],"nice":false,"zero":false}},
 "y2":{"field":"h"},
 "color":{"condition":{"test":"datum.c>=datum.o","value":"#089981"},"value":"#f23645"}}},
{"data":{"name":"candles"},"mark":{"type":"bar","width":1.8},
 "encoding":{"x":{"field":"i","type":"quantitative","scale":{"domain":[-11.45,280.46],"nice":false,"zero":false}},
 "y":{"field":"o","type":"quantitative","scale":{"domain":[1.1296,1.135283],"nice":false,"zero":false}},
 "y2":{"field":"c"},
 "color":{"condition":{"test":"datum.c>=datum.o","value":"#089981"},"value":"#f23645"}}},
{"data":{"name":"sig"},"transform":[{"filter":"datum.k!='S'&&datum.k!='B'"}],"mark":{"type":"point","filled":true,"size":225,"opacity":1,"strokeWidth":0},
 "encoding":{"x":{"field":"i","type":"quantitative","scale":{"domain":[-11.45,280.46],"nice":false,"zero":false}},
 "y":{"field":"p","type":"quantitative","scale":{"domain":[1.1296,1.135283],"nice":false,"zero":false}},
 "shape":{"field":"k","type":"nominal","scale":{"domain":["bd","sd","su","bu"],"range":["M-1,-0.65L1,-0.65L0,0.65Z","M-0.67,-0.53L0.67,-0.53L0,0.53Z","M0,-0.47L0.6,0.47L-0.6,0.47Z","M0,-0.8L1,0.8L-1,0.8Z"]}},
 "fill":{"field":"k","type":"nominal","scale":{"domain":["bd","sd","su","bu"],"range":["#f7374f","#ff4a17","#ff4a17","#00e07a"]}}}},
{"data":{"name":"sig"},"transform":[{"filter":"datum.k=='S'||datum.k=='B'"}],"mark":{"type":"text","fontSize":5.5,"fontWeight":"bold","color":"#bdbdbd","font":"Liberation Sans","baseline":"middle"},
 "encoding":{"x":{"field":"i","type":"quantitative","scale":{"domain":[-11.45,280.46],"nice":false,"zero":false}},
 "y":{"field":"p","type":"quantitative","scale":{"domain":[1.1296,1.135283],"nice":false,"zero":false}},
 "text":{"field":"k"}}},
{"data":{"name":"arrows"},"mark":{"type":"point","filled":true,"size":2116,"fill":"#000000","stroke":"#ffffff","strokeWidth":1.4,"opacity":1},
 "encoding":{"x":{"field":"i","type":"quantitative","scale":{"domain":[-11.45,280.46],"nice":false,"zero":false}},
 "y":{"field":"p","type":"quantitative","scale":{"domain":[1.1296,1.135283],"nice":false,"zero":false}},
 "shape":{"field":"d","type":"nominal","scale":{"domain":["dn","up"],"range":["M-0.2,-0.74L0.2,-0.74L0.2,0.17L0.39,0.17L0,0.74L-0.39,0.17L-0.2,0.17Z","M0,-1L0.39,-0.3L0.2,-0.3L0.2,1L-0.2,1L-0.2,-0.3L-0.39,-0.3Z"]}}}},
{"data":{"name":"tags"},"mark":{"type":"point","filled":true,"size":484,"strokeWidth":0.8,"opacity":1},
 "encoding":{"x":{"datum":286,"type":"quantitative","scale":{"domain":[-11.45,280.46],"nice":false,"zero":false}},
 "y":{"field":"p","type":"quantitative","scale":{"domain":[1.1296,1.135283],"nice":false,"zero":false}},
 "shape":{"field":"k","type":"nominal","scale":{"domain":["a","b","c","d","e","f","g"],"range":["M-1,-0.33L1,-0.33L1,0.33L-1,0.33Z","M-1,-0.33L1,-0.33L1,0.33L-1,0.33Z","M-1,-0.45L1,-0.45L1,0.95L-1,0.95Z","M-1,-0.33L1,-0.33L1,0.33L-1,0.33Z","M-1,0L1,0L1,0.66L-1,0.66Z","M-1,0.18L1,0.18L1,0.84L-1,0.84Z","M-1,-0.33L1,-0.33L1,0.33L-1,0.33Z"]}},
 "fill":{"field":"k","type":"nominal","scale":{"domain":["a","b","c","d","e","f","g"],"range":["#2962ff","#000000","#f23645","#000000","#000000","#000000","#000000"]}},
 "stroke":{"field":"k","type":"nominal","scale":{"domain":["a","b","c","d","e","f","g"],"range":["#2962ff","#1e3c9c","#f23645","#0b6b58","#5d5d5d","#9a5a10","#1e3c9c"]}}}},
{"data":{"name":"tags"},"transform":[{"filter":"datum.k!='e'&&datum.k!='f'"}],"mark":{"type":"text","fontSize":5,"font":"Liberation Sans","baseline":"middle","align":"center"},
 "encoding":{"x":{"datum":286,"type":"quantitative","scale":{"domain":[-11.45,280.46],"nice":false,"zero":false}},
 "y":{"field":"p","type":"quantitative","scale":{"domain":[1.1296,1.135283],"nice":false,"zero":false}},
 "text":{"field":"t"},
 "color":{"field":"k","type":"nominal","scale":{"domain":["a","b","c","d","g"],"range":["#ffffff","#3b63f0","#ffffff","#1eb394","#3b63f0"]}}}},
{"data":{"name":"tags"},"transform":[{"filter":"datum.k=='e'"}],"mark":{"type":"text","fontSize":5,"font":"Liberation Sans","baseline":"middle","align":"center","dy":3.6,"color":"#a0a0a0"},
 "encoding":{"x":{"datum":286,"type":"quantitative","scale":{"domain":[-11.45,280.46],"nice":false,"zero":false}},
 "y":{"field":"p","type":"quantitative","scale":{"domain":[1.1296,1.135283],"nice":false,"zero":false}},
 "text":{"field":"t"}}},
{"data":{"name":"tags"},"transform":[{"filter":"datum.k=='f'"}],"mark":{"type":"text","fontSize":5,"font":"Liberation Sans","baseline":"middle","align":"center","dy":5.6,"color":"#d4801a"},
 "encoding":{"x":{"datum":286,"type":"quantitative","scale":{"domain":[-11.45,280.46],"nice":false,"zero":false}},
 "y":{"field":"p","type":"quantitative","scale":{"domain":[1.1296,1.135283],"nice":false,"zero":false}},
 "text":{"field":"t"}}},
{"data":{"name":"tags"},"transform":[{"filter":"datum.k=='c'"}],"mark":{"type":"text","fontSize":5,"font":"Liberation Sans","baseline":"middle","align":"center","dy":6.5,"color":"#ffffff"},
 "encoding":{"x":{"datum":286,"type":"quantitative","scale":{"domain":[-11.45,280.46],"nice":false,"zero":false}},
 "y":{"field":"p","type":"quantitative","scale":{"domain":[1.1296,1.135283],"nice":false,"zero":false}},
 "text":{"value":"03:07"}}},
{"data":{"name":"tags"},"transform":[{"filter":"datum.k=='c'"}],"mark":{"type":"point","filled":true,"size":1024,"opacity":1,"fill":"#f23645","strokeWidth":0,"shape":"M-1,-0.25L1,-0.25L1,0.25L-1,0.25Z"},
 "encoding":{"x":{"datum":260,"type":"quantitative","scale":{"domain":[-11.45,280.46],"nice":false,"zero":false}},
 "y":{"field":"p","type":"quantitative","scale":{"domain":[1.1296,1.135283],"nice":false,"zero":false}}}},
{"data":{"name":"tags"},"transform":[{"filter":"datum.k=='c'"}],"mark":{"type":"text","fontSize":5,"fontWeight":"bold","font":"Liberation Sans","baseline":"middle","align":"center","color":"#ffffff"},
 "encoding":{"x":{"datum":260,"type":"quantitative","scale":{"domain":[-11.45,280.46],"nice":false,"zero":false}},
 "y":{"field":"p","type":"quantitative","scale":{"domain":[1.1296,1.135283],"nice":false,"zero":false}},
 "text":{"value":"AUDNZD"}}}
]
}
